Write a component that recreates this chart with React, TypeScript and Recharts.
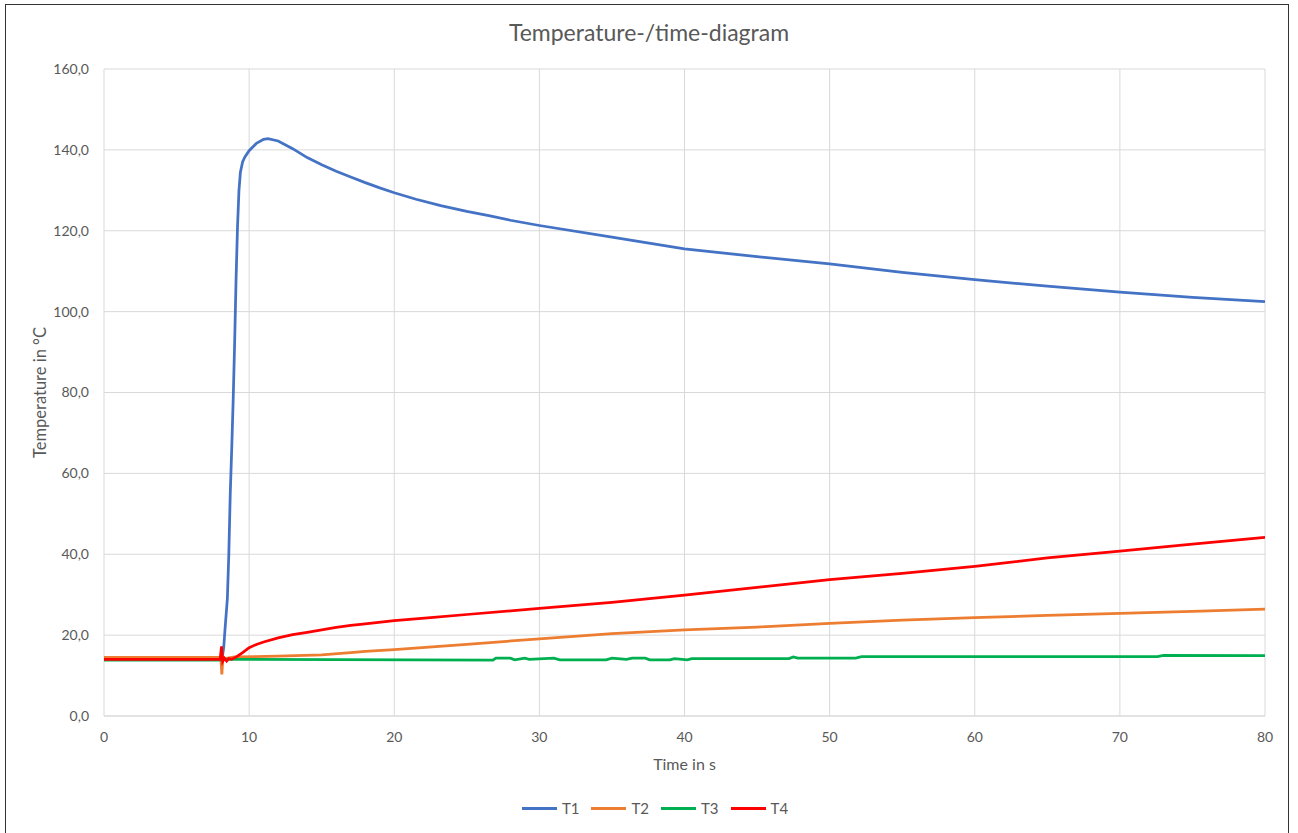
import { LineChart, Line, XAxis, YAxis, CartesianGrid } from "recharts";

// values (time in s, temperature in °C)
const t1Time = [0, 8.0, 8.15, 8.25, 8.35, 8.5, 8.6, 8.7, 8.8, 8.9, 9.0, 9.1, 9.2, 9.3, 9.4, 9.55, 9.7, 10, 10.5, 11, 11.3, 12, 13, 14, 15, 16, 17, 18, 19, 20, 21.5, 23.2, 25, 26.6, 28, 30, 35, 40, 45, 50, 55, 60, 65, 70, 75, 80];
const t1Temp = [14.0, 14.0, 14.5, 17, 22, 29, 40, 55, 66, 78, 92, 108, 121, 130, 134.5, 137, 138.2, 139.8, 141.6, 142.6, 142.8, 142.2, 140.3, 138.1, 136.3, 134.7, 133.3, 131.9, 130.6, 129.4, 127.8, 126.2, 124.8, 123.7, 122.6, 121.3, 118.4, 115.5, 113.6, 111.8, 109.7, 107.9, 106.3, 104.8, 103.5, 102.5];

const t2Time = [0, 8.05, 8.12, 8.2, 8.3, 9, 12, 15, 17, 18, 20, 25, 30, 35, 40, 45, 50, 55, 60, 65, 70, 75, 80];
const t2Temp = [14.5, 14.5, 10.3, 14.6, 14.2, 14.6, 14.8, 15.1, 15.7, 16.0, 16.4, 17.7, 19.1, 20.4, 21.3, 22.0, 22.9, 23.7, 24.3, 24.9, 25.4, 25.9, 26.4];

const t3Time = [0, 8, 8.3, 26.8, 27.0, 28.0, 28.3, 29.0, 29.3, 31.0, 31.4, 34.6, 35.0, 36.0, 36.4, 37.3, 37.6, 39.0, 39.3, 40.2, 40.5, 47.2, 47.5, 47.8, 51.8, 52.2, 72.6, 73.0, 80];
const t3Temp = [13.8, 13.8, 14.0, 13.8, 14.3, 14.3, 13.9, 14.3, 14.0, 14.3, 13.9, 13.9, 14.3, 14.0, 14.3, 14.3, 13.9, 13.9, 14.2, 13.9, 14.2, 14.2, 14.6, 14.3, 14.3, 14.7, 14.7, 15.0, 14.9];

const t4Time = [0, 8.0, 8.1, 8.18, 8.3, 8.45, 8.6, 8.8, 9.2, 9.6, 10, 10.5, 11, 12, 13, 14, 15, 16, 17, 18, 20, 22.5, 25, 30, 35, 40, 45, 50, 55, 60, 65, 70, 75, 80];
const t4Temp = [14.0, 14.0, 17.2, 13.5, 14.3, 13.6, 14.2, 14.0, 14.8, 15.8, 16.9, 17.7, 18.3, 19.3, 20.1, 20.7, 21.3, 21.9, 22.4, 22.8, 23.6, 24.3, 25.1, 26.6, 28.1, 29.9, 31.8, 33.7, 35.3, 37.0, 39.1, 40.8, 42.5, 44.2];

const xTicks = [0, 10, 20, 30, 40, 50, 60, 70, 80];
const yTicks = [0, 20, 40, 60, 80, 100, 120, 140, 160];

const series = [
  { name: "T1", time: t1Time, temp: t1Temp, color: "#4472C4" },
  { name: "T2", time: t2Time, temp: t2Temp, color: "#ED7D31" },
  { name: "T3", time: t3Time, temp: t3Temp, color: "#00B050" },
  { name: "T4", time: t4Time, temp: t4Temp, color: "#FF0000" },
];

const FONT = "Lato, 'Open Sans', sans-serif";
const TEXT = "#595959";

const toPoints = (time: number[], temp: number[]) => time.map((t, i) => ({ t, v: temp[i] }));

export default function App() {
  return (
    <div style={{ position: "fixed", left: 0, top: 0, width: 1298, height: 833, overflow: "hidden", background: "#fff", fontFamily: FONT }}>
      <div style={{ position: "absolute", left: 5, top: 4, width: 1282, height: 850, border: "1px solid #333" }} />
      <div style={{ position: "absolute", left: 0, width: 1298, top: 18, textAlign: "center", fontSize: 23, color: TEXT }}>
        Temperature-/time-diagram
      </div>
      <div style={{ position: "absolute", left: 0 }}>
        <LineChart width={1298} height={833} margin={{ top: 69, right: 33, bottom: 57, left: 24 }}>
          <CartesianGrid stroke="#D9D9D9" strokeWidth={1} horizontalValues={yTicks} verticalValues={xTicks} />
          <XAxis
            dataKey="t"
            type="number"
            domain={[0, 80]}
            ticks={xTicks}
            allowDataOverflow
            height={60}
            tickLine={false}
            axisLine={{ stroke: "#D9D9D9" }}
            tickSize={0}
            tickMargin={16}
            tick={{ fill: TEXT, fontSize: 14, fontFamily: FONT }}
            label={{ value: "Time in s", position: "insideBottom", offset: 6, fill: TEXT, fontSize: 16, fontFamily: FONT }}
          />
          <YAxis
            type="number"
            domain={[0, 160]}
            ticks={yTicks}
            width={80}
            tickLine={false}
            axisLine={false}
            tickSize={0}
            tickMargin={15}
            tickFormatter={(v: number) => v.toFixed(1).replace(".", ",")}
            tick={{ fill: TEXT, fontSize: 14, fontFamily: FONT }}
            label={{ value: "Temperature in °C", angle: -90, position: "insideLeft", offset: 16, fill: TEXT, fontSize: 16.5, fontFamily: FONT, style: { textAnchor: "middle" } }}
          />
          {series.map((s) => (
            <Line
              key={s.name}
              data={toPoints(s.time, s.temp)}
              dataKey="v"
              name={s.name}
              type="linear"
              stroke={s.color}
              strokeWidth={2.75}
              dot={false}
              activeDot={false}
              isAnimationActive={false}
            />
          ))}
        </LineChart>
      </div>
      <div style={{ position: "absolute", left: 6, width: 1298, top: 799, display: "flex", justifyContent: "center", gap: 12, fontSize: 15, color: TEXT }}>
        {series.map((s) => (
          <div key={s.name} style={{ display: "flex", alignItems: "center", gap: 5 }}>
            <span style={{ display: "inline-block", width: 35, height: 3, background: s.color }} />
            <span>{s.name}</span>
          </div>
        ))}
      </div>
    </div>
  );
}
